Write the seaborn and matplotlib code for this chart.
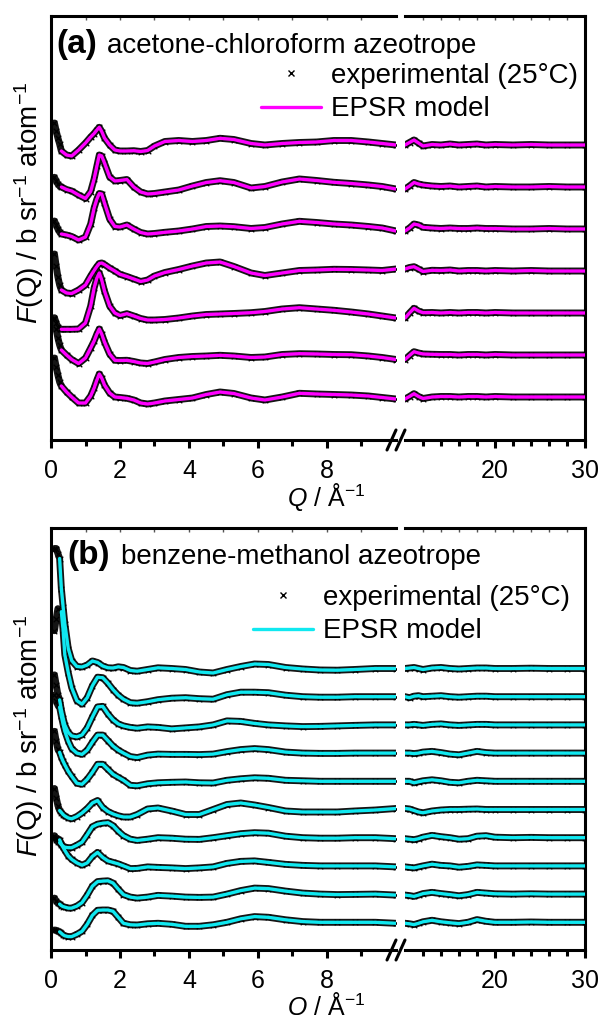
import numpy as np
import pandas as pd
import matplotlib
matplotlib.use("Agg")
import matplotlib.pyplot as plt
from matplotlib.lines import Line2D
import seaborn as sns

sns.set_style("ticks")
plt.rcParams["font.family"] = ["Liberation Sans", "DejaVu Sans"]
plt.rcParams["mathtext.fontset"] = "custom"
plt.rcParams["mathtext.rm"] = "Liberation Sans"
plt.rcParams["mathtext.it"] = "Liberation Sans:italic"
plt.rcParams["mathtext.bf"] = "Liberation Sans:bold"
for k in ("text.color", "axes.labelcolor", "xtick.color", "ytick.color", "axes.edgecolor"):
    plt.rcParams[k] = "black"

# ---------------- data (F(Q) in units of 0.01 b sr^-1 atom^-1, before stacking) -------------
Q_HIGH = [10.5, 11.0, 11.5, 12.0, 13.0, 14.0, 15.0, 16.0, 17.0, 18.0, 19.0, 20.0,
          22.0, 24.0, 26.0, 28.0, 30.0]

# panel (a): acetone-chloroform
Q_A = [0.3, 0.45, 0.6, 0.8, 1.0, 1.15, 1.25, 1.33, 1.4, 1.47, 1.55, 1.7, 1.85, 2.0,
       2.2, 2.4, 2.6, 2.8, 3.0, 3.3, 3.7, 4.1, 4.5, 4.9, 5.3, 5.8, 6.2, 6.7, 7.2,
       7.7, 8.2, 8.7, 9.2, 9.6, 10.0] + Q_HIGH
Q_A_LOW = [0.1, 0.15, 0.2, 0.25]

A1 = [-6, -10, -11, -5, 2, 8, 11.5, 15, 17.7, 13.5, 7, 0, -5, -6, -6, -5.7, -6.5, -5.5,
      -1, 3.5, 4.5, 3.5, 4.5, 6.7, 5.5, 1.5, 0, 1.5, 2.5, 3, 4.5, 4.5, 3, 1.5, 0,
      2.5, 5, 2, -1, 0.5, 0, 1, 0, 0.5, 1, 0, 0.5, 0, 0.5, 0, 0, 0]
A2 = [0, -2.5, -4, -8, -11.5, -4.5, 8, 21, 32, 31, 24, 10, 6, 6.5, 7.5, 0, -5, -7,
      -6.5, -5, -3, 1, 4.5, 6.3, 4.5, -1, 0.5, 5, 8, 6.5, 4.7, 3.5, 2, 0.5, -2,
      1, 4.5, 3, 2, 1, 0.5, 1, 0, 0.5, 1, 0, 0.5, 0, 0, 0.5, 0, 0]
A3 = [-5, -6, -7.5, -11, -8, 5, 21, 30, 35.5, 35, 26, 10, 2.5, 2, 4, 0, -3.5, -5,
      -4.5, -3.3, -2, 0, 2.5, 3, 2.3, 0.5, 1.5, 5, 7.7, 6.5, 5, 4, 2.5, 1, -2,
      1, 5, 4, 1.7, 1, 0.5, 1, 0.5, 0.5, 1, 0.5, 0.5, 0, 0, 0.5, 0, 0]
A4 = [-19, -22, -22.5, -19, -14, -5, 0.5, 4.5, 7.5, 8, 6.5, 3, 0, -3.3, -5.5, -8,
      -10.5, -9, -5, -1.5, 1.5, 5, 8, 9, 4.5, -2, -4.5, -2, 0.5, 1, 1.7, 1.5, 1,
      0.5, 2, 3.5, 4.3, 2, -0.5, 0.7, 0.5, 1, 0, 0.5, 0.5, 0, 0.5, 0, 0.5, 0, 0, 0]
A5 = [-16.3, -16.3, -16.3, -16, -10, 7, 25, 35, 40, 33, 22, 7, 0, -2.5, -0.7, -3,
      -5.5, -7, -7, -6.5, -5, -3, -1.5, -1, -0.5, 0.3, 1.5, 4, 5.3, 4, 2.7, 1, -1,
      -3, -5, 0, 4.7, 2, 0.3, 0.5, 0, 0.5, 0, 0.5, 0.5, 0, 0.5, 0, 0, 0, 0, 0]
A6 = [5, 0, -4.5, -8.5, -3, 7, 14, 21, 26, 21, 13, 1, -5.3, -5.5, -5.3, -6.5, -8,
      -8.5, -7, -4.5, -2.5, -1.5, -1, -0.3, -1, -2.5, -2, 0.5, 1.3, 1, 0.5, 0.3, -1,
      -2.5, -4.5, -0.5, 3.3, 2, 1, 0.7, 0.5, 0.5, 0, 0.5, 0.5, 0, 0.5, 0, 0, 0, 0, 0]
A7 = [11, 5, 0, -6, -6, 1, 9, 17, 23, 19, 12, 4, 0, -0.5, -1.3, -3, -6, -7, -6, -4,
      -2.5, -1, 2.5, 5, 3.5, -1, -3, 0, 3.7, 3, 2.5, 2, 1, -0.5, -2,
      0.5, 3.3, 0.5, -1.5, 0, 0.5, 0.5, 0, 0.5, 0.5, 0, 0.5, 0, 0, 0, 0, 0]
# experimental points below the first model point
A1_LOW = [22, 14, 7, 1]
A2_LOW = [9.7, 6, 3, 1]
A3_LOW = [8, 4, 0, -3]
A4_LOW = [17, 5, -6, -14]
A5_LOW = [-4.7, -10, -14, -16]
A6_LOW = [36, 26, 17, 10]
A7_LOW = [39, 30, 22, 15]

# panel (b): benzene-methanol
Q_B = [0.25, 0.3, 0.35, 0.4, 0.5, 0.6, 0.75, 0.9, 1.05, 1.2, 1.35, 1.5, 1.65, 1.8,
       1.95, 2.1, 2.3, 2.5, 2.8, 3.1, 3.5, 3.9, 4.3, 4.7, 5.1, 5.5, 5.9, 6.3, 6.8,
       7.3, 7.8, 8.3, 8.8, 9.4, 10.0] + Q_HIGH
Q_B_LOW = [0.1, 0.15, 0.2]

B1 = [110, 80, 62, 45, 20, 8, 2, 1.5, 3.5, 7.5, 6, 2.5, 0.7, 0.5, 1.7, 1, -2, -2.7,
      -1, 0.7, 0, -1, -3.5, -4.5, -1, 2, 4.5, 4, 1, -0.5, -1.5, -1.7, -1, 0, 0,
      0.5, 1, 0, -1, 0.5, 1, 0, -0.5, 0, 0.5, 0.5, 0, 0, 0.3, 0, 0, 0]
B2 = [np.nan, 85, 67, 42, 24, 9, -4, -7.5, -1, 11, 19.5, 19, 13.5, 7, 1.5, -2.5, -6,
      -6.5, -5, -3, -1.5, -1, -2, -2.5, 2, 4.5, 4.5, 4, 1.5, 0, -0.5, -0.5, 0, 0, 0,
      -1, 0.5, 1, 0, 0.5, 1, 0, -0.5, 0, 0.5, 0.5, 0, 0, 0, 0, 0, 0]
B3 = [25, 15, 7, 0, -7.5, -11, -12, -10, -3, 8, 18, 18.5, 11, 5, 1, -1, -2.5, -3.3,
      -2, -2.5, -4, -3, -2, 0, 4, 3.5, 1.5, 0, -1, -1.7, -1.5, -1, -0.5, 0, 0,
      0, 0.5, 0, -0.5, 0.5, 1, 0, -0.5, 0, 0.5, 0.5, 0, 0, 0, 0, 0, 0]
B4 = [46, 37, 29, 22, 12, 4.5, 0, -1.3, 3, 11, 18, 18, 12.5, 7, 3, 0, -3.5, -4.5, -2,
      -1, -1.3, -1.3, -1.5, -1, 1.5, 3.5, 4.5, 3.5, 1, 0, -0.3, -0.3, 0, 0, 0,
      0, -0.5, 0, 1, 1.7, 0.5, -1, -1.7, 0, 1.7, 0.5, 0, 0, 0, 0, 0, 0]
B5 = [29, 24, 20, 16.5, 10, 5, -2, -3, 2, 9, 17, 17, 12, 7, 4, 1, -4, -4.5, -2.5,
      -1.5, -1, -0.7, -1.5, -1.7, 1, 2.5, 3.5, 3, 1, 0.5, 0, 0, 0, 0, 0,
      0, -1.5, -0.5, 0.5, 1.5, 0.5, -1, -1.5, 0, 1, 0.5, 0, 0, 0, 0, 0, 0]
B6 = [-1, -3, -5, -6.5, -8.5, -9.3, -7, -3.5, 1, 6.5, 9, 2, -2, -4.5, -6.3, -7.5,
      -7.5, -5, 0.5, 1.5, -1.5, -5, -5, 0, 5, 6.5, 4.5, 2, -1.5, -2.5, -2.5, -2.5,
      -1.5, -0.5, 1, 0.5, -1, -2.5, -3.3, -1.5, -0.5, 0, 0, 0.3, 0.5, 0, 0, 0, 0,
      0, 0, 0]
B7 = [-5, -7, -8.5, -9.5, -10, -10, -7.5, -4.5, 3, 11, 13.5, 14.5, 15, 12, 6.5, 2,
      -1.5, -2.7, -1.5, 0, -0.5, -1.5, -1.7, 0, 2, 4, 5, 4.5, 1.5, 0, -0.5, -0.5, 0,
      0, -1, -1.5, -2, -1, 0.5, 2.3, 1, 0, -1.5, -1, 1.5, 2, 0.5, 0, 0.3, 0, 0, 0]
B8 = [26, 22, 18.5, 15.5, 10, 6.5, 3, 0.7, 3, 9.5, 13.5, 8.5, 5, 3.5, 2, 0, -2.7,
      -2.5, -1, -1.5, -2, -2.7, -2, -1, 2.5, 4.5, 5, 3.5, 1.5, 0.5, 0, 0, 0, 0, -1,
      -1.5, -2, -1, 0, 1.7, 0.5, 0, -1.3, -0.5, 1, 0.5, 0, 0, 0, 0, 0, 0]
B9 = [-10, -11.5, -12.5, -13, -14, -14, -12, -8.5, -1, 8, 12.5, 13, 13.3, 11, 5,
      -0.5, -3, -4, -3, -1.3, -2, -3, -3.3, -3, 0, 3.5, 6, 5.5, 3, 1, 0, -0.5, -0.3,
      0, -1, -1.5, -2.3, -1, 0.5, 1.7, 0.5, -0.5, -1.7, -0.5, 1.7, 1, 0.3, 0, 0.3,
      0, 0, 0]
B10 = [-9.5, -11, -12.5, -13.5, -14.3, -14.3, -12, -9, -2, 7, 12, 12.3, 12.3, 11, 5,
       -1, -2.5, -2.7, -1.5, -1, -2, -4, -4, -2.5, 0, 3.5, 5.7, 5, 2.5, 0.7, 0, 0, 0,
       0, -1, -1.5, -2.3, -1, 0.5, 2, 0.5, -0.5, -1.3, 0, 2.7, 1, 0, 0, 0.3, 0, 0, 0]
B1_LOW = [120, 120, 115]
B2_LOW = [66, 78, 88]
B3_LOW = [50, 40, 30]
B4_LOW = [58, 52, 48]
B5_LOW = [50, 40, 32]
B6_LOW = [21, 12, 4]
B7_LOW = [2, -2, -4]
B8_LOW = [28, 28, 27]
B9_LOW = [-4, -7, -9]
B10_LOW = [-7.7, -8, -9]

OFFSET_A = 42.0
OFFSET_B = 28.2

MAJOR_L = [0, 2, 4, 6, 8]
MINOR_L = [1, 3, 5, 7, 9]
TOP_L = [1, 2, 3, 4, 5, 6, 7, 8, 9]
MAJOR_R = [20, 30]
MINOR_R = [12, 14, 16, 18, 22, 24, 26, 28]
TOP_R = [12, 14, 16, 18, 20, 22, 24, 26, 28]

MAGENTA = "#FF00FF"
CYAN = "#10E8F0"

# ---------------- figure ----------------
W, H = 603, 1015
fig = plt.figure(figsize=(W / 100, H / 100), dpi=100)


def fx(px):
    return px / W


def fy(py):
    return 1 - py / H


def make_panel(top, bottom, ylim):
    axL = fig.add_axes([fx(51), fy(bottom), (396 - 51) / W, (bottom - top) / H])
    axR = fig.add_axes([fx(405), fy(bottom), (585 - 405) / W, (bottom - top) / H])
    for ax in (axL, axR):
        ax.set_facecolor("none")
        for s in ax.spines.values():
            s.set_linewidth(2.2)
            s.set_color("black")
        ax.set_ylim(*ylim)
        ax.set_yticks([])
        ax.tick_params(axis="x", which="major", direction="out", length=6, width=2.2,
                       labelsize=18, pad=8, colors="black")
        ax.tick_params(axis="x", which="minor", direction="out", length=4, width=2.2,
                       colors="black")
    axL.spines["right"].set_visible(False)
    axR.spines["left"].set_visible(False)
    axL.set_xlim(0, 10)
    axR.set_xlim(10, 30)
    axL.set_xticks(MAJOR_L)
    axL.set_xticks(MINOR_L, minor=True)
    axR.set_xticks(MAJOR_R)
    axR.set_xticks(MINOR_R, minor=True)
    # faint inward ticks along the top frame
    for ax, ticks in ((axL, TOP_L), (axR, TOP_R)):
        sec = ax.secondary_xaxis("top")
        sec.set_xticks(ticks)
        sec.tick_params(direction="in", length=3, width=1, labeltop=False,
                        colors="#555555")
        for s in sec.spines.values():
            s.set_visible(False)
    return axL, axR


def draw(axes, qgrid, qlow, curves, lows, offset, color):
    n = len(curves)
    for i, (F, Fl) in enumerate(zip(curves, lows)):
        off = offset * (n - 1 - i)
        model = pd.DataFrame({"Q": qgrid, "F": np.asarray(F, float) + off}).dropna()
        exp = pd.DataFrame({"Q": list(qlow) + list(qgrid),
                            "F": np.r_[np.asarray(Fl, float), np.asarray(F, float)] + off}).dropna()
        for ax in axes:
            sns.lineplot(data=exp, x="Q", y="F", ax=ax, color="#151515", lw=5.0,
                         sort=False, estimator=None, legend=False, zorder=2)
            sns.scatterplot(data=exp, x="Q", y="F", ax=ax, marker="x", color="black",
                            s=16, linewidth=0.9, legend=False, zorder=3)
            sns.lineplot(data=model, x="Q", y="F", ax=ax, color=color, lw=2.4,
                         sort=False, estimator=None, legend=False, zorder=4)
    for ax in axes:
        ax.set_xlabel("")
        ax.set_ylabel("")


def break_marks(bottom):
    for x0 in (387, 396):
        fig.add_artist(Line2D([fx(x0), fx(x0 + 9)], [fy(bottom + 10), fy(bottom - 10)],
                              transform=fig.transFigure, color="black", lw=2.2))


def legend(color, x, y):
    handles = [Line2D([], [], ls="none", marker="x", color="black", ms=5, mew=1.0),
               Line2D([], [], color=color, lw=2.4)]
    fig.legend(handles, ["experimental (25°C)", "EPSR model"], loc="upper left",
               bbox_to_anchor=(fx(x), fy(y)), bbox_transform=fig.transFigure,
               frameon=False, fontsize=20, handlelength=2.16, handletextpad=0.36,
               labelspacing=0.27, borderpad=0, borderaxespad=0)


YLABEL = r"$F$(Q) / b sr$^{-1}$ atom$^{-1}$"
XLABEL = r"$Q$ / Å$^{-1}$"

# panel (a)
aL, aR = make_panel(16, 440, (-43, 381))
draw((aL, aR), Q_A, Q_A_LOW, [A1, A2, A3, A4, A5, A6, A7],
     [A1_LOW, A2_LOW, A3_LOW, A4_LOW, A5_LOW, A6_LOW, A7_LOW], OFFSET_A, MAGENTA)
break_marks(440)
legend(MAGENTA, 261, 63)
fig.text(fx(56), fy(53), "(a)", fontsize=24, fontweight="bold", va="baseline")
fig.text(fx(107), fy(53), "acetone-chloroform azeotrope", fontsize=20, va="baseline")
fig.text(fx(29), fy(203), YLABEL, fontsize=20, rotation=90, ha="center", va="center")
fig.text(fx(326), fy(481), XLABEL, fontsize=18, ha="center", va="top")

# panel (b)
bL, bR = make_panel(528, 950, (-27.7, 394.3))
draw((bL, bR), Q_B, Q_B_LOW, [B1, B2, B3, B4, B5, B6, B7, B8, B9, B10],
     [B1_LOW, B2_LOW, B3_LOW, B4_LOW, B5_LOW, B6_LOW, B7_LOW, B8_LOW, B9_LOW, B10_LOW],
     OFFSET_B, CYAN)
break_marks(950)
legend(CYAN, 253, 585)
fig.text(fx(67), fy(564), "(b)", fontsize=24, fontweight="bold", va="baseline")
fig.text(fx(121), fy(564), "benzene-methanol azeotrope", fontsize=20, va="baseline")
fig.text(fx(29), fy(736), YLABEL, fontsize=20, rotation=90, ha="center", va="center")
fig.text(fx(326), fy(990), XLABEL, fontsize=18, ha="center", va="top")

fig.savefig("out.png", dpi=100)
